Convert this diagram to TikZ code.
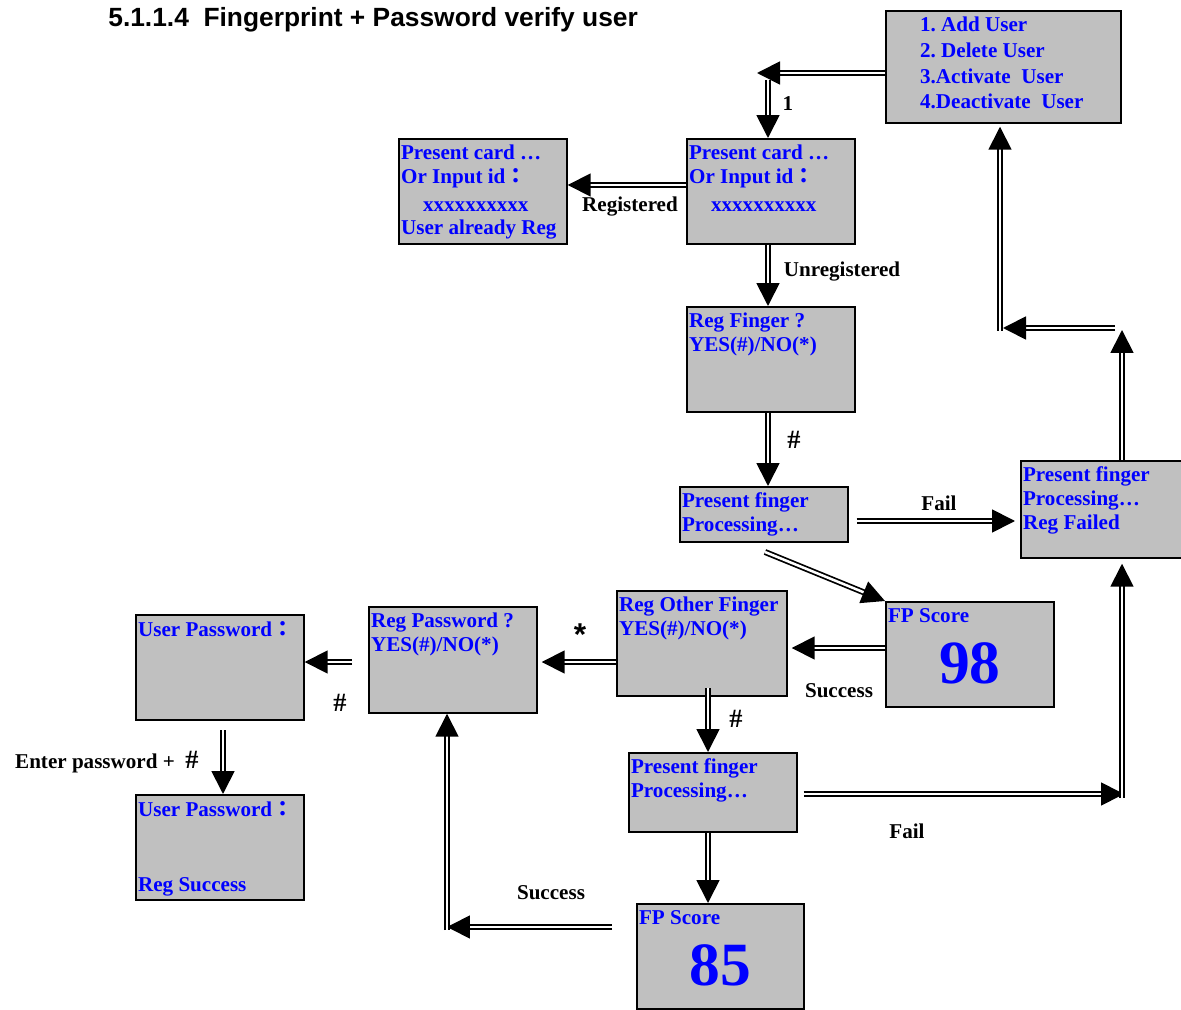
\documentclass[tikz,border=0pt]{standalone}
\usepackage{fontspec}
\setmainfont{Liberation Serif}
\newfontfamily\titlefont{Liberation Sans}
\newfontfamily\cjk{Noto Sans CJK TC}
\usetikzlibrary{arrows.meta}
\usetikzlibrary{positioning,calc}
\definecolor{scrgray}{HTML}{C0C0C0}
\definecolor{scrblue}{HTML}{0000FF}
\frenchspacing
\tikzset{
    screen/.style={
        draw,
        fill=scrgray,
        line width=1pt,
        anchor=north west,
        minimum width=3.36cm,
        minimum height=2.1cm,
        inner sep=0pt
    },
    scrtext/.style={
        anchor=north west,
        align=left,
        inner sep=1pt,
        text=scrblue,
        font=\fontsize{12}{13.6}\selectfont\bfseries
    },
    scrtop/.style={scrtext, xshift=0.02cm, yshift=-0.1cm},
    scrnum/.style={text=scrblue, font=\fontsize{35}{35}\selectfont\bfseries},
    lbl/.style={font=\fontsize{12}{14}\selectfont\bfseries},
    hashlbl/.style={font=\fontsize{15}{15}\selectfont\bfseries},
    dbl/.style={
        double,
        double distance=0.05cm,
        line width=0.035cm,
        -{Triangle[length=0.46cm, width=0.46cm]}
    }
}
\newcommand{\fwcolon}{{\cjk\bfseries ：}}

\begin{document}
\begin{tikzpicture}[x=0.02cm, y=-0.02cm]
  \useasboundingbox (0,0) rectangle (1181,1010);

  % Title
  \node[anchor=west, inner sep=0pt, font=\titlefont\fontsize{15}{17}\selectfont\bfseries] (title) at (108,20) {5.1.1.4\ \ Fingerprint + Password verify user};

  % Screens
  \node[screen, minimum width=4.7cm, minimum height=2.24cm] (menu) at (885,10) {};
  \node[screen] (card) at (686,138) {};
  \node[screen] (cardreg) at (398,138) {};
  \node[screen] (regfp) at (686,306) {};
  \node[screen, minimum height=1.1cm] (fp1) at (679,486) {};
  \node[screen, minimum height=1.94cm] (fpfail) at (1020,460) {};
  \node[screen] (score98) at (885,601) {};
  \node[screen, minimum width=3.4cm] (regother) at (616,590) {};
  \node[screen, minimum height=2.12cm] (regpwd) at (368,606) {};
  \node[screen] (pwd) at (135,614) {};
  \node[screen] (pwdok) at (135,794) {};
  \node[screen, minimum height=1.58cm] (fp2) at (628,752) {};
  \node[screen, minimum width=3.34cm] (score85) at (636,903) {};

  % Screen texts
  \node[scrtop, xshift=0.64cm] (menutxt) at (menu.north west) {1. Add User\\[1pt]2. Delete User\\[1pt]3.Activate\ \ User\\[1pt]4.Deactivate\ \ User};
  \node[scrtop] (cardtxt) at (card.north west) {Present card …\\Or Input id\fwcolon\\[2pt]\hspace*{0.44cm}xxxxxxxxxx};
  \node[scrtop] (cardregtxt) at (cardreg.north west) {Present card …\\Or Input id\fwcolon\\[2pt]\hspace*{0.44cm}xxxxxxxxxx\\User already Reg};
  \node[scrtop] (regfptxt) at (regfp.north west) {Reg Finger ?\\YES(\#)/NO(*)};
  \node[scrtop] (fp1txt) at (fp1.north west) {Present finger\\Processing…};
  \node[scrtop] (fpfailtxt) at (fpfail.north west) {Present finger\\Processing…\\Reg Failed};
  \node[scrtop] (score98txt) at (score98.north west) {FP Score};
  \node[scrnum] (num98) at ([yshift=-0.18cm]score98.center) {98};
  \node[scrtop] (regothertxt) at (regother.north west) {Reg Other Finger\\YES(\#)/NO(*)};
  \node[scrtop] (regpwdtxt) at (regpwd.north west) {Reg Password ?\\YES(\#)/NO(*)};
  \node[scrtop] (pwdtxt) at (pwd.north west) {User Password\fwcolon};
  \node[scrtop] (pwdoktxt) at (pwdok.north west) {User Password\fwcolon};
  \node[scrtext, xshift=0.02cm] (pwdokmsg) at ([yshift=0.04cm]pwdok.south west) [anchor=south west] {Reg Success};
  \node[scrtop] (fp2txt) at (fp2.north west) {Present finger\\Processing…};
  \node[scrtop] (score85txt) at (score85.north west) {FP Score};
  \node[scrnum] (num85) at ([yshift=-0.18cm]score85.center) {85};

  % Connectors
  \coordinate (c1) at (757,73);
  \draw[dbl] (menu.west |- c1) -- (c1);
  \coordinate (c1b) at (768,80);
  \draw[dbl] (c1b) -- (c1b |- card.north);
  \node[lbl] (l1) at (788,104) {1};

  \draw[dbl] (card.west |- 0,185) -- (cardreg.east |- 0,185);
  \node[lbl] (lreg) at (630,207) {Registered};

  \draw[dbl] (card.south -| c1b) -- (regfp.north -| c1b);
  \node[lbl] (lunreg) at (842,272) {Unregistered};

  \draw[dbl] (regfp.south -| c1b) -- (fp1.north -| c1b);
  \node[hashlbl] (lhash1) at (794,440) {\#};

  \draw[dbl, shorten <=0.16cm, shorten >=0.1cm] (fp1.east |- 0,521) -- (fpfail.west |- 0,521);
  \node[lbl] (lfail1) at (939,503) {Fail};

  \coordinate (c7) at (765,552);
  \draw[dbl] (c7) -- (score98.north west);

  \draw[dbl, shorten >=0.08cm] (score98.west |- 0,648) -- (regother.east |- 0,648);
  \node[lbl] (lsucc1) at (839,691) {Success};

  \draw[dbl, shorten >=0.08cm] (regother.west |- 0,662) -- (regpwd.east |- 0,662);
  \node[lbl, font=\titlefont\fontsize{18}{18}\selectfont\bfseries] (lstar) at (580,635) {*};

  \coordinate (c10) at (352,662);
  \draw[dbl] (c10) -- (pwd.east |- c10);
  \node[hashlbl] (lhash2) at (340,703) {\#};

  \coordinate (c11) at (223,730);
  \draw[dbl] (c11) -- (c11 |- pwdok.north);
  \node[lbl, anchor=west] (lenter) at (9,762) {Enter password +\ \ {\fontsize{15}{15}\selectfont\#}};

  \coordinate (c12) at (708,688);
  \draw[dbl] (c12) -- (c12 |- fp2.north);
  \node[hashlbl] (lhash3) at (736,719) {\#};

  \coordinate (c13) at (1124,794);
  \draw[dbl, shorten <=0.12cm] (fp2.east |- c13) -- (c13);
  \coordinate (c13b) at (1122,798);
  \draw[dbl, shorten >=0.1cm] (c13b) -- (c13b |- fpfail.south);
  \node[lbl] (lfail2) at (907,831) {Fail};

  \draw[dbl] (fp2.south -| c12) -- (score85.north -| c12);

  \coordinate (c15s) at (612,927);
  \coordinate (c15) at (447,927);
  \draw[dbl] (c15s) -- (c15);
  \draw[dbl] ([yshift=-0.06cm]c15) -- (c15 |- regpwd.south);
  \node[lbl] (lsucc2) at (551,893) {Success};

  \coordinate (c16) at (1122,330);
  \draw[dbl] (fpfail.north -| c16) -- (c16);
  \coordinate (c16a) at (1115,328);
  \coordinate (c16b) at (1003,328);
  \draw[dbl] (c16a) -- (c16b);
  \coordinate (c16c) at (1000,331);
  \draw[dbl, shorten >=0.06cm] (c16c) -- (c16c |- menu.south);
\end{tikzpicture}
\end{document}
